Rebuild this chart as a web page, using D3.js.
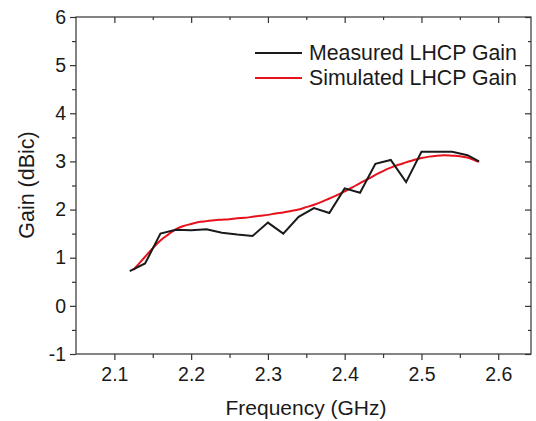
<!DOCTYPE html>
<html><head><meta charset="utf-8">
<script src="https://cdn.jsdelivr.net/npm/d3@7"></script>
<style>body{margin:0;background:#fff}svg{display:block}text{font-family:"Liberation Sans",Arial,sans-serif;fill:#1a1a1a}</style>
</head><body><svg id="c" width="536" height="421"></svg>
<script>
const measuredFreq = [2.12,2.14,2.16,2.18,2.20,2.22,2.24,2.26,2.28,2.30,2.32,2.34,2.36,2.38,2.40,2.42,2.44,2.46,2.48,2.50,2.52,2.54,2.56,2.575];
const measuredGain = [0.72,0.88,1.50,1.58,1.57,1.59,1.52,1.48,1.45,1.73,1.50,1.85,2.03,1.93,2.44,2.35,2.95,3.03,2.57,3.20,3.20,3.20,3.13,3.00];
const simFreq = [2.125,2.14,2.15,2.16,2.17,2.18,2.19,2.20,2.21,2.22,2.23,2.24,2.25,2.26,2.27,2.28,2.29,2.30,2.31,2.32,2.33,2.34,2.35,2.36,2.37,2.38,2.39,2.40,2.41,2.42,2.43,2.44,2.45,2.46,2.47,2.48,2.49,2.50,2.51,2.52,2.53,2.54,2.55,2.56,2.57,2.575];
const simGain = [0.75,1.02,1.20,1.36,1.48,1.59,1.66,1.70,1.74,1.76,1.78,1.79,1.80,1.82,1.83,1.85,1.87,1.89,1.92,1.94,1.97,2.00,2.05,2.10,2.16,2.23,2.30,2.38,2.46,2.55,2.63,2.72,2.80,2.87,2.93,2.98,3.03,3.07,3.10,3.12,3.13,3.12,3.11,3.08,3.02,2.99];
const xTicks = [2.1,2.2,2.3,2.4,2.5,2.6];
const xMinor = [2.15,2.25,2.35,2.45,2.55];
const yTicks = [-1,0,1,2,3,4,5,6];
const yMinor = [-0.5,0.5,1.5,2.5,3.5,4.5,5.5];
const seriesNames = ["Measured LHCP Gain","Simulated LHCP Gain"];
const seriesColors = ["#1a1a1a","#e8101a"];

const svg = d3.select("#c");
const L=76, R=531, T=17, B=354;
const x = d3.scaleLinear().domain([2.05, 2.6427]).range([L, R]);
const y = d3.scaleLinear().domain([-1, 6]).range([B, T]);
const ax = "#333";

svg.append("rect").attr("x",L).attr("y",T).attr("width",R-L).attr("height",B-T)
  .attr("fill","none").attr("stroke",ax).attr("stroke-width",1.2);

function clean(g){ g.select(".domain").remove(); g.selectAll("line").attr("stroke",ax).attr("stroke-width",1.2); return g; }
function styleText(g){ g.selectAll("text").style("font-size","19.5px").style("font-family","Liberation Sans, Arial, sans-serif").attr("fill","#1a1a1a"); }

styleText(clean(svg.append("g").attr("transform",`translate(0,${B})`)
  .call(d3.axisBottom(x).tickValues(xTicks).tickSize(6).tickPadding(7).tickFormat(d=>d.toFixed(1)))));
clean(svg.append("g").attr("transform",`translate(0,${B})`)
  .call(d3.axisBottom(x).tickValues(xMinor).tickSize(4).tickFormat("")));
clean(svg.append("g").attr("transform",`translate(0,${T})`)
  .call(d3.axisBottom(x).tickValues(xTicks).tickSize(6).tickFormat("")));
clean(svg.append("g").attr("transform",`translate(0,${T})`)
  .call(d3.axisBottom(x).tickValues(xMinor).tickSize(3).tickFormat("")));

styleText(clean(svg.append("g").attr("transform",`translate(${L},0)`)
  .call(d3.axisLeft(y).tickValues(yTicks).tickSize(6).tickPadding(4).tickFormat(d=>String(d)))));
clean(svg.append("g").attr("transform",`translate(${L},0)`)
  .call(d3.axisLeft(y).tickValues(yMinor).tickSize(4).tickFormat("")));
clean(svg.append("g").attr("transform",`translate(${R},0)`)
  .call(d3.axisLeft(y).tickValues(yTicks).tickSize(6).tickFormat("")));
clean(svg.append("g").attr("transform",`translate(${R},0)`)
  .call(d3.axisLeft(y).tickValues(yMinor).tickSize(3).tickFormat("")));

svg.append("path").datum(simFreq.map((f,i)=>[f,simGain[i]]))
  .attr("d", d3.line().x(d=>x(d[0])).y(d=>y(d[1])).curve(d3.curveCatmullRom))
  .attr("fill","none").attr("stroke",seriesColors[1]).attr("stroke-width",2);
svg.append("path").datum(measuredFreq.map((f,i)=>[f,measuredGain[i]]))
  .attr("d", d3.line().x(d=>x(d[0])).y(d=>y(d[1])))
  .attr("fill","none").attr("stroke",seriesColors[0]).attr("stroke-width",2);

seriesNames.forEach((n,i)=>{
  const yy = 53 + i*25;
  svg.append("line").attr("x1",255).attr("x2",302).attr("y1",yy).attr("y2",yy)
    .attr("stroke",seriesColors[i]).attr("stroke-width",2);
  svg.append("text").attr("x",309).attr("y",yy+7).style("font-size","21.3px").text(n);
});

svg.append("text").attr("x",306).attr("y",415).attr("text-anchor","middle").style("font-size","21px").text("Frequency (GHz)");
svg.append("text").attr("transform","translate(34,185) rotate(-90)").attr("text-anchor","middle").style("font-size","21.5px").text("Gain (dBic)");
</script></body></html>
